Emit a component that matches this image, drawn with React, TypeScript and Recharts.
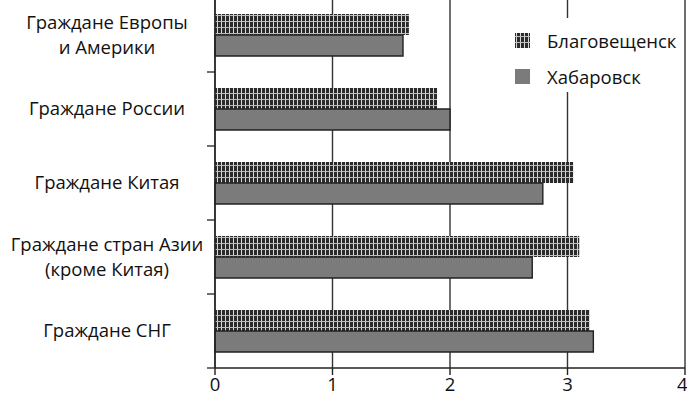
import * as React from 'react'
import {
  Bar,
  BarChart,
  CartesianGrid,
  XAxis,
  YAxis,
} from 'recharts'

const categories = [
  'Граждане Европы\nи Америки',
  'Граждане России',
  'Граждане Китая',
  'Граждане стран Азии\n(кроме Китая)',
  'Граждане СНГ',
]
const blagoveshchensk = [1.65, 1.89, 3.05, 3.1, 3.19]
const khabarovsk = [1.6, 2.0, 2.79, 2.7, 3.22]
const xTicks = [0, 1, 2, 3, 4]

const data = categories.map((name, i) => ({
  name,
  blag: blagoveshchensk[i],
  khab: khabarovsk[i],
}))

const FONT = '"Open Sans", "Noto Sans", sans-serif'
const FS = 18.5
const BAND = 74
const AXIS_X = 215

const HatchDefs = ({ id }: { id: string }) => (
  <defs>
    <pattern id={id} width="4" height="6" patternUnits="userSpaceOnUse">
      <rect width="4" height="6" fill="#2b2b2b" />
      <rect x="1" y="0" width="1" height="6" fill="#d8d8d8" />
      <rect x="0" y="3" width="4" height="1" fill="#bdbdbd" />
    </pattern>
  </defs>
)

// label centred in the band, plus a short tick on the band boundary below it
const CategoryTick = (props: any) => {
  const { y, payload } = props
  const lines = String(payload.value).split('\n')
  const lh = 25
  const start = y - ((lines.length - 1) * lh) / 2
  return (
    <g>
      <line
        x1={AXIS_X - 8}
        x2={AXIS_X}
        y1={y + BAND / 2}
        y2={y + BAND / 2}
        stroke="#222"
        strokeWidth={1.3}
      />
      <text textAnchor="middle" fontFamily={FONT} fontSize={FS} fill="#111">
        {lines.map((l, i) => (
          <tspan key={i} x={107} y={start + i * lh} dy="0.35em">
            {l}
          </tspan>
        ))}
      </text>
    </g>
  )
}

const LegendBox = () => (
  <div
    style={{
      position: 'absolute',
      left: 508,
      top: 18,
      background: '#fff',
      width: 172,
      height: 74,
      fontFamily: FONT,
      fontSize: FS,
      color: '#111',
      paddingLeft: 7,
      paddingTop: 4,
      boxSizing: 'border-box',
    }}
  >
    <div style={{ display: 'flex', alignItems: 'center', height: 36 }}>
      <svg width={15} height={15} style={{ marginRight: 17 }}>
        <HatchDefs id="legendHatch" />
        <rect width={15} height={15} fill="url(#legendHatch)" />
      </svg>
      Благовещенск
    </div>
    <div style={{ display: 'flex', alignItems: 'center', height: 36 }}>
      <svg width={15} height={15} style={{ marginRight: 17 }}>
        <rect width={15} height={15} fill="#7b7b7b" />
      </svg>
      Хабаровск
    </div>
  </div>
)

export default function App() {
  return (
    <div style={{ position: 'relative', width: 687, height: 401, background: '#fff' }}>
      <style>{'body{margin:0}'}</style>
      <BarChart
        width={687}
        height={401}
        data={data}
        layout="vertical"
        margin={{ top: -2, right: 2, bottom: 0, left: 0 }}
        barCategoryGap={16}
        barGap={0}
      >
        <HatchDefs id="barHatch" />
        <CartesianGrid horizontal={false} stroke="#333" strokeWidth={1.4} />
        <XAxis
          type="number"
          domain={[0, 4]}
          ticks={xTicks}
          height={33}
          axisLine={{ stroke: '#222', strokeWidth: 1.4 }}
          tickLine={{ stroke: '#222', strokeWidth: 1.4 }}
          tickSize={7}
          tickMargin={3}
          tick={{ fontFamily: FONT, fontSize: FS, fill: '#111' }}
        />
        <YAxis
          type="category"
          dataKey="name"
          width={AXIS_X}
          axisLine={{ stroke: '#222', strokeWidth: 1.4 }}
          tickLine={false}
          tick={<CategoryTick />}
          interval={0}
        />
        <Bar
          dataKey="blag"
          name="Благовещенск"
          fill="url(#barHatch)"
          barSize={21}
          isAnimationActive={false}
        />
        <Bar
          dataKey="khab"
          name="Хабаровск"
          fill="#7b7b7b"
          stroke="#222"
          strokeWidth={1.4}
          barSize={21}
          isAnimationActive={false}
        />
      </BarChart>
      <LegendBox />
    </div>
  )
}
